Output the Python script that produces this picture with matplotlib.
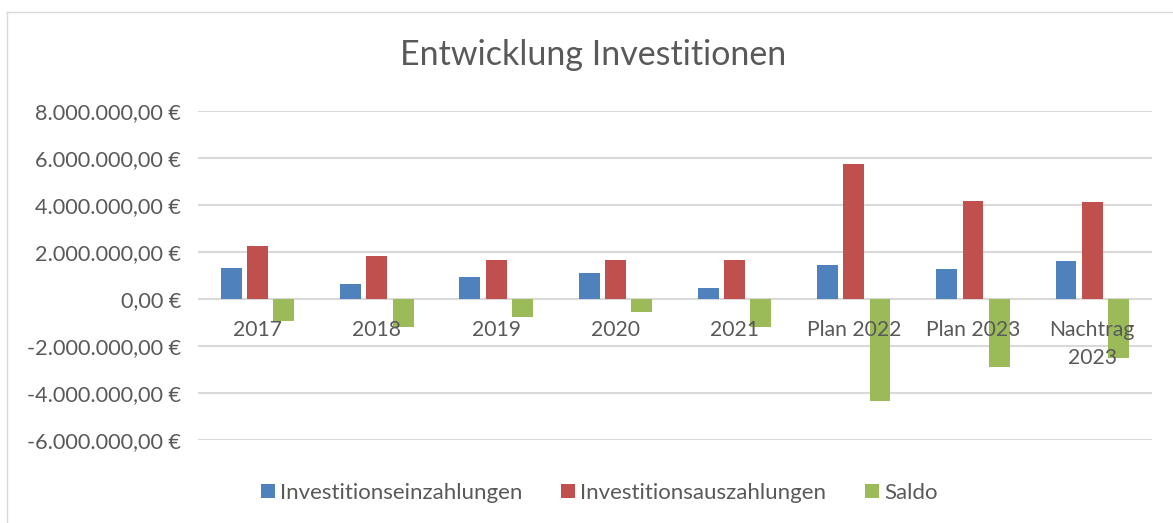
import matplotlib
matplotlib.use("Agg")
import matplotlib.pyplot as plt
import matplotlib.transforms as mtransforms
from matplotlib.lines import Line2D
import numpy as np

categories = ["2017", "2018", "2019", "2020", "2021", "Plan 2022", "Plan 2023", "Nachtrag\n2023"]
einzahlungen = [1.32e6, 0.63e6, 0.93e6, 1.10e6, 0.48e6, 1.44e6, 1.28e6, 1.62e6]
auszahlungen = [2.27e6, 1.82e6, 1.68e6, 1.66e6, 1.68e6, 5.76e6, 4.18e6, 4.11e6]
saldo = [-0.95e6, -1.19e6, -0.75e6, -0.56e6, -1.20e6, -4.32e6, -2.90e6, -2.49e6]
series_names = ["Investitionseinzahlungen", "Investitionsauszahlungen", "Saldo"]
y_ticks = [-6e6, -4e6, -2e6, 0, 2e6, 4e6, 6e6, 8e6]

colors = ["#4F81BD", "#C0504D", "#9BBB59"]
FONT = ["Lato", "DejaVu Sans"]
TXT = "#595959"

plt.rcParams['font.family'] = FONT

fig = plt.figure(figsize=(11.73, 5.23), dpi=100)
# outer chart border (top and left edges visible)
x0, ytop = 6.5 / 1173, 1 - 11.5 / 523
fig.lines.append(Line2D([x0, 1.0], [ytop, ytop], transform=fig.transFigure,
                        color="#d9d9d9", linewidth=1))
fig.lines.append(Line2D([x0, x0], [0.0, ytop], transform=fig.transFigure,
                        color="#d9d9d9", linewidth=1))

ax = fig.add_axes([0.1688, 0.1587, 0.8132, 0.6291])

x = np.arange(len(categories))
w = 0.175
step = 0.22
for k, (vals, c, name) in enumerate(zip([einzahlungen, auszahlungen, saldo], colors, series_names)):
    ax.bar(x + (k - 1) * step, vals, width=w, color=c, label=name, zorder=3)

ax.set_xlim(-0.5, len(categories) - 0.5)
ax.set_ylim(-6e6, 8e6)
ax.set_yticks(y_ticks)

def fmt(v):
    s = f"{abs(v):,.2f}".replace(",", "X").replace(".", ",").replace("X", ".")
    return ("-" if v < 0 else "") + s + " €"

ax.set_yticklabels([fmt(v) for v in y_ticks], color=TXT, fontsize=15.6)
ax.tick_params(axis="y", length=0, pad=12)
ax.set_xticks([])
ax.grid(axis="y", color="#d9d9d9", linewidth=1.5, zorder=0)
for s in ax.spines.values():
    s.set_visible(False)

trans = mtransforms.blended_transform_factory(ax.transData, ax.transData)
for i, lab in enumerate(categories):
    ax.text(i, -0.9e6, lab, transform=trans, ha="center", va="top",
            fontsize=15.2, color=TXT, linespacing=1.5, zorder=4)

fig.text(0.506, 0.895, "Entwicklung Investitionen", ha="center", va="center",
         fontsize=24.5, color=TXT)

leg = fig.legend(loc="center", bbox_to_anchor=(0.511, 0.058), ncol=3, frameon=False,
                 fontsize=16, handlelength=0.6, handleheight=0.6, handletextpad=0.25,
                 columnspacing=1.75, labelcolor=TXT)

fig.savefig("out.png", dpi=100)
